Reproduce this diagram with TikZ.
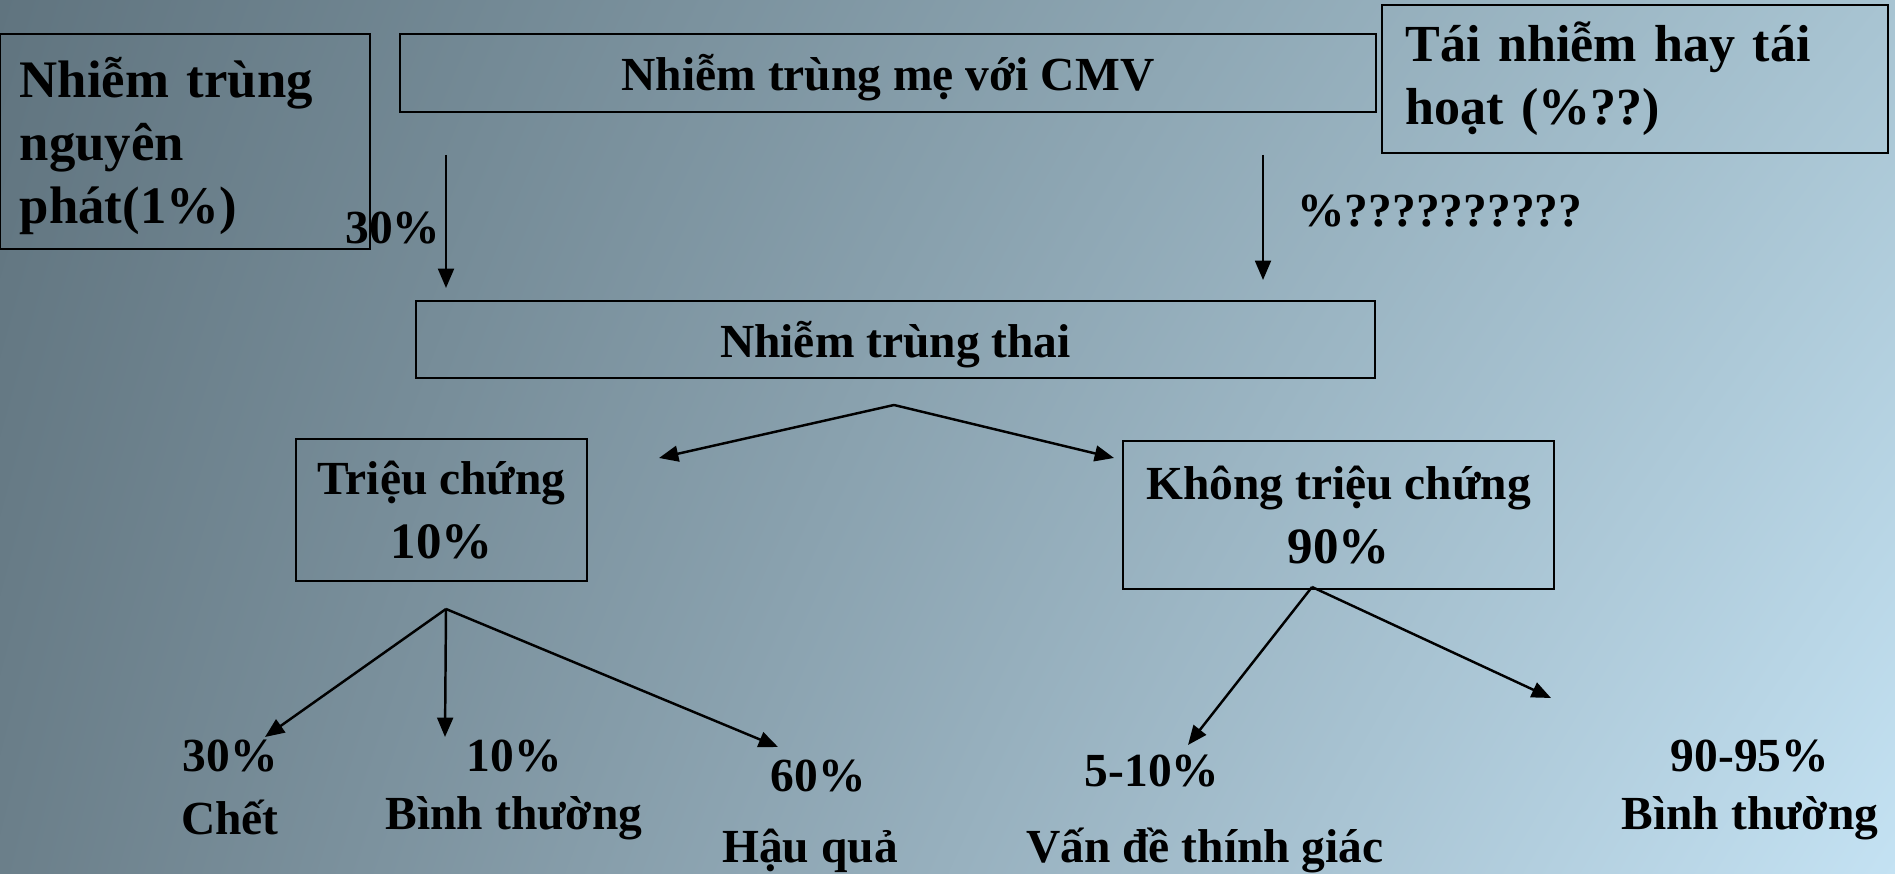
\documentclass[tikz,border=0pt]{standalone}
\usepackage{fontspec}
\setmainfont{Liberation Serif}
\usetikzlibrary{arrows.meta,shadings}
\definecolor{bgul}{HTML}{60747F}
\definecolor{bgll}{HTML}{6B7F8A}
\definecolor{bgur}{HTML}{A8C4D2}
\definecolor{bglr}{HTML}{C4E2F3}
\tikzset{
  box/.style={draw, line width=0.6pt, inner sep=0pt},
  txt/.style={font=\bfseries\fontsize{13.5}{18}\selectfont},
  big/.style={font=\bfseries\fontsize{15}{18}\selectfont},
  arr/.style={-{Triangle[length=5.5pt,width=4.5pt]}, line width=0.7pt}
}
\newcommand{\pct}[1]{{\fontsize{14.5}{18}\selectfont #1}}
\begin{document}
\begin{tikzpicture}[x=0.01cm, y=-0.01cm]
  \shade[upper left=bgul, lower left=bgll, upper right=bgur, lower right=bglr] (0,0) rectangle (1895,874);
  \useasboundingbox (0,0) rectangle (1895,874);

  \node[box, big, minimum width=3.7cm, minimum height=2.15cm, text width=3.3cm, align=left, text height=0pt, text depth=25.3pt] (prim) at (185,141.5) {Nhiễm trùng\\nguyên\\phát(1\%)};
  \node[box, txt, minimum width=9.76cm, minimum height=0.78cm, text height=12pt, text depth=2.3pt] (mom) at (888,73) {Nhiễm trùng mẹ với CMV};
  \node[box, font=\bfseries\fontsize{14.8}{18}\selectfont, minimum width=5.06cm, minimum height=1.48cm, text width=4.58cm, align=left, text height=0pt, text depth=10pt] (reinf) at (1635,79) {Tái nhiễm hay tái\\hoạt (\%??)};
  \node[box, txt, minimum width=9.59cm, minimum height=0.77cm, text height=12.5pt, text depth=2pt] (fetus) at (895.5,339.5) {Nhiễm trùng thai};
  \node[box, txt, minimum width=2.91cm, minimum height=1.42cm, align=center] (sym) at (441.5,510) {Triệu chứng\\\pct{10\%}};
  \node[box, txt, minimum width=4.31cm, minimum height=1.48cm, align=center] (asym) at (1338.5,515) {Không triệu chứng\\\pct{90\%}};

  \node[txt, anchor=base west] (p30) at (333,244) {30\%};
  \node[txt, anchor=base west] (pq) at (1285,227) {\%??????????};

  \node[txt, anchor=base] (deadp) at (230,772) {30\%};
  \node[txt, anchor=base] (dead) at (230,834) {Chết};
  \node[txt, anchor=base] (normp) at (514,772) {10\%};
  \node[txt, anchor=base] (norm) at (514,830) {Bình thường};
  \node[txt, anchor=base] (seqp) at (818,792) {60\%};
  \node[txt, anchor=base] (seq) at (810,863) {Hậu quả};
  \node[txt, anchor=base] (hearp) at (1152,787) {5-10\%};
  \node[txt, anchor=base] (hear) at (1205,863) {Vấn đề thính giác};
  \node[txt, anchor=base] (okp) at (1750,772) {90-95\%};
  \node[txt, anchor=base] (ok) at (1750,830) {Bình thường};

  \coordinate (m1) at (446,155);
  \coordinate (f1) at (446,288);
  \coordinate (m2) at (1263,155);
  \coordinate (f2) at (1263,280);
  \coordinate (fs) at (894,405);
  \coordinate (s1) at (659,458);
  \coordinate (a1) at (1114,458);
  \coordinate (ss) at (446,609);
  \coordinate (s2) at (265,737);
  \coordinate (s3) at (445,737);
  \coordinate (s4) at (778,747);
  \coordinate (as) at (1312,587);
  \coordinate (a2) at (1188,745);
  \coordinate (a3) at (1551,698);

  \draw[arr] (m1) -- (f1);
  \draw[arr] (m2) -- (f2);
  \draw[arr] (fs) -- (s1);
  \draw[arr] (fs) -- (a1);
  \draw[arr] (ss) -- (s2);
  \draw[arr] (ss) -- (s3);
  \draw[arr] (ss) -- (s4);
  \draw[arr] (as) -- (a2);
  \draw[arr] (as) -- (a3);
\end{tikzpicture}
\end{document}
